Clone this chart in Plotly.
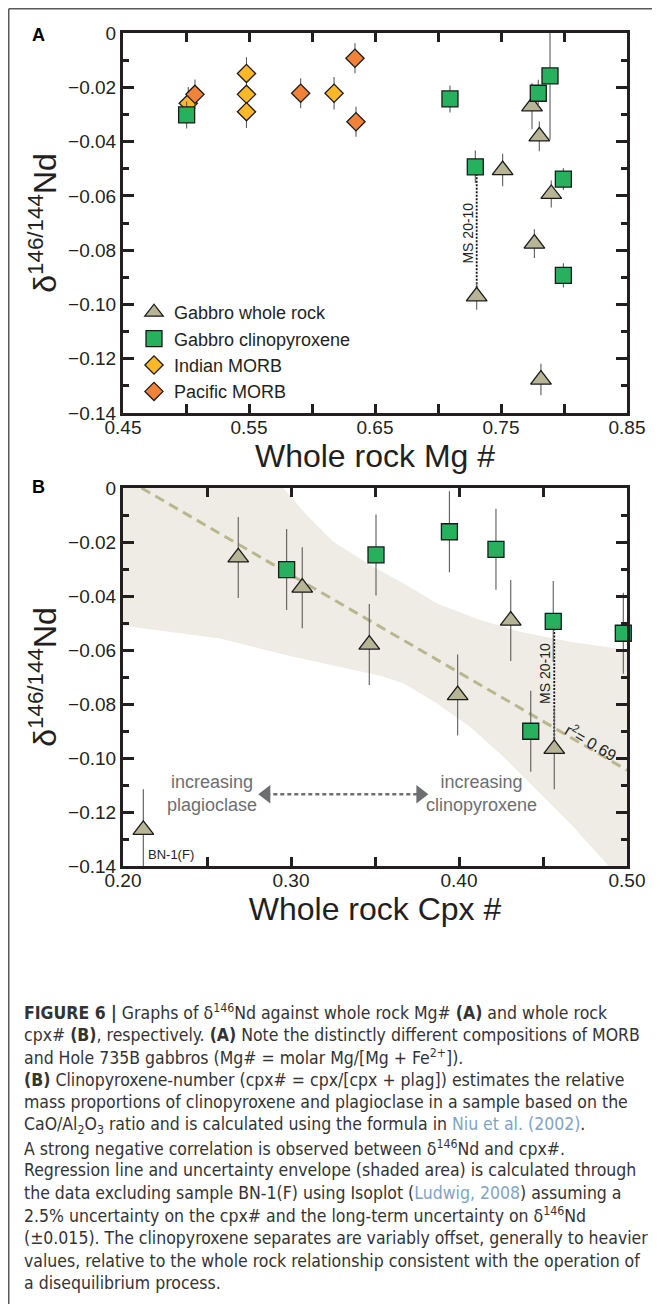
import plotly.graph_objects as go

# the page body adds an 8px margin, so the figure is 8px smaller than the window
OFF = 8
W, H = 660 - OFF, 1304 - OFF
INK = "#231f20"
GREY = "#6d6e71"
FONT = "Liberation Sans, Arial, sans-serif"
CAP_FONT = "Liberation Sans Narrow, DejaVu Sans Condensed, Liberation Sans, sans-serif"

# ---- panel A : d146Nd vs whole rock Mg#
wr_mg = [0.7513, 0.7307, 0.7746, 0.7804, 0.7899, 0.7765, 0.7817]
wr_d146_a = [-0.0505, -0.0970, -0.0270, -0.0381, -0.0593, -0.0776, -0.1277]
wr_err_a = [0.006, 0.005, 0.0085, 0.0055, 0.005, 0.0053, 0.0058]

cpx_mg = [0.5005, 0.7095, 0.7296, 0.7796, 0.7889, 0.7995, 0.7995]
cpx_d146_a = [-0.0302, -0.0243, -0.0493, -0.0222, -0.0158, -0.0538, -0.0893]
cpx_err_a = [0.005, 0.005, 0.006, 0.005, 0.0235, 0.004, 0.0045]

indian_mg = [0.5018, 0.548, 0.548, 0.548, 0.6175]
indian_d146 = [-0.0259, -0.0149, -0.0226, -0.0290, -0.0222]
indian_err = [0.006, 0.006, 0.006, 0.006, 0.006]

pacific_mg = [0.5071, 0.5910, 0.6341, 0.6349]
pacific_d146 = [-0.0226, -0.0222, -0.0093, -0.0327]
pacific_err = [0.0055, 0.0055, 0.0055, 0.0055]

# ---- panel B : d146Nd vs whole rock cpx#
wr_cpx = [0.2121, 0.2686, 0.3067, 0.3466, 0.3992, 0.4308, 0.4567]
wr_d146_b = [-0.1266, -0.0257, -0.0369, -0.0580, -0.0767, -0.0491, -0.0966]
cpx_cpx = [0.2974, 0.3506, 0.3943, 0.4220, 0.4427, 0.4561, 0.4978]
cpx_d146_b = [-0.0302, -0.0248, -0.0162, -0.0227, -0.0901, -0.0494, -0.0538]
err_b = 0.015

# regression line and uncertainty envelope (excluding BN-1(F))
fit_cpx = [0.211, 0.50]
fit_d146 = [0.0, -0.1045]
env_up_x = [0.20, 0.25, 0.2954, 0.3093, 0.3252, 0.347, 0.3668, 0.3867, 0.4125, 0.4363, 0.4661, 0.50]
env_up_y = [0.080, 0.037, 0.0, -0.010, -0.0199, -0.0285, -0.0353, -0.0427, -0.0489, -0.0532, -0.0569, -0.0600]
env_lo_x = [0.50, 0.4859, 0.4661, 0.4462, 0.4264, 0.4065, 0.3867, 0.3668, 0.353, 0.2974, 0.2577, 0.20]
env_lo_y = [-0.148, -0.1378, -0.1242, -0.1119, -0.0995, -0.0884, -0.0797, -0.0723, -0.0695, -0.0619, -0.0557, -0.0510]

# sample MS 20-10 : index of whole rock / cpx in each panel
ms_wr_a, ms_cpx_a = 1, 2
ms_wr_b, ms_cpx_b = 6, 5

# direction arrow (increasing plagioclase <-> increasing clinopyroxene)
arrow_x = [0.2853, 0.3770]
arrow_y = [-0.1134, -0.1134]

# ticks
ya_vals = [0, -0.02, -0.04, -0.06, -0.08, -0.10, -0.12, -0.14]
ya_text = ["0", "\u22120.02", "\u22120.04", "\u22120.06", "\u22120.08", "\u22120.10", "\u22120.12", "\u22120.14"]
y_minor = [-0.01, -0.03, -0.05, -0.07, -0.09, -0.11, -0.13]
xa_vals = [0.45, 0.55, 0.65, 0.75, 0.85]
xa_minor = [0.50, 0.60, 0.70, 0.80]
xb_vals = [0.20, 0.30, 0.40, 0.50]
xb_minor = [0.25, 0.35, 0.45]

caption = [
    "<b>FIGURE 6 |</b> Graphs of \u03b4<sup>146</sup>Nd against whole rock Mg# <b>(A)</b> and whole rock",
    "cpx# <b>(B)</b>, respectively. <b>(A)</b> Note the distinctly different compositions of MORB",
    "and Hole 735B gabbros (Mg# = molar Mg/[Mg + Fe<sup>2+</sup>]).",
    "<b>(B)</b> Clinopyroxene-number (cpx# = cpx/[cpx + plag]) estimates the relative",
    "mass proportions of clinopyroxene and plagioclase in a sample based on the",
    "CaO/Al<sub>2</sub>O<sub>3</sub> ratio and is calculated using the formula in "
    "<span style='color:#7fa3c4'>Niu et al. (2002)</span>.",
    "A strong negative correlation is observed between \u03b4<sup>146</sup>Nd and cpx#.",
    "Regression line and uncertainty envelope (shaded area) is calculated through",
    "the data excluding sample BN-1(F) using Isoplot (<span style='color:#7fa3c4'>Ludwig, 2008</span>) assuming a",
    "2.5% uncertainty on the cpx# and the long-term uncertainty on \u03b4<sup>146</sup>Nd",
    "(\u00b10.015). The clinopyroxene separates are variably offset, generally to heavier",
    "values, relative to the whole rock relationship consistent with the operation of",
    "a disequilibrium process.",
]


def px_x(p):
    # window pixel -> paper fraction
    return (p - OFF) / W


def px_y(p):
    return 1 - (p - OFF) / H


STYLE = {
    "wr": dict(name="Gabbro whole rock", symbol="triangle-up", size=18, color="#b7b595", rank=1),
    "cpx": dict(name="Gabbro clinopyroxene", symbol="square", size=16, color="#27b15f", rank=2),
    "ind": dict(name="Indian MORB", symbol="diamond", size=14, color="#fdb827", rank=3),
    "pac": dict(name="Pacific MORB", symbol="diamond", size=14, color="#f0823a", rank=4),
}


def points(key, x, y, err, xa, ya, legend, clip=True):
    s = STYLE[key]
    return go.Scatter(
        x=x, y=y, mode="markers", name=s["name"], legendrank=s["rank"],
        showlegend=legend, xaxis=xa, yaxis=ya, cliponaxis=clip,
        marker=dict(symbol=s["symbol"], size=s["size"], color=s["color"],
                    line=dict(color="#1a1a1a", width=1.3)),
        error_y=dict(type="data", array=err, color="#5c5c5c", thickness=1.1, width=0),
        hoverinfo="skip",
    )


fig = go.Figure()

# panel B envelope + regression
fig.add_trace(go.Scatter(
    x=env_up_x + env_lo_x, y=env_up_y + env_lo_y, xaxis="x2", yaxis="y2",
    fill="toself", fillcolor="#eeece5", line=dict(width=0), mode="lines",
    showlegend=False, hoverinfo="skip",
))
fig.add_trace(go.Scatter(
    x=fit_cpx, y=fit_d146, xaxis="x2", yaxis="y2", mode="lines",
    line=dict(color="#b9b78f", width=3, dash="10px,6px"), showlegend=False, hoverinfo="skip",
))

# MS 20-10 tie lines
fig.add_trace(go.Scatter(
    x=[wr_mg[ms_wr_a], wr_mg[ms_wr_a]], y=[cpx_d146_a[ms_cpx_a], wr_d146_a[ms_wr_a]],
    mode="lines", line=dict(color="#111", width=1.8, dash="2px,1.5px"),
    showlegend=False, hoverinfo="skip",
))
fig.add_trace(go.Scatter(
    x=[wr_cpx[ms_wr_b], wr_cpx[ms_wr_b]], y=[cpx_d146_b[ms_cpx_b], wr_d146_b[ms_wr_b]],
    xaxis="x2", yaxis="y2",
    mode="lines", line=dict(color="#111", width=1.8, dash="2px,1.5px"),
    showlegend=False, hoverinfo="skip",
))

# direction arrow
fig.add_trace(go.Scatter(
    x=arrow_x, y=arrow_y, xaxis="x2", yaxis="y2", mode="lines+markers",
    line=dict(color=GREY, width=2.5, dash="4px,3px"),
    marker=dict(symbol=["triangle-left", "triangle-right"], size=16, color=GREY),
    showlegend=False, hoverinfo="skip",
))

# panel A points
fig.add_trace(points("ind", indian_mg, indian_d146, indian_err, "x", "y", True))
fig.add_trace(points("pac", pacific_mg, pacific_d146, pacific_err, "x", "y", True))
fig.add_trace(points("wr", wr_mg, wr_d146_a, wr_err_a, "x", "y", True))
fig.add_trace(points("cpx", cpx_mg, cpx_d146_a, cpx_err_a, "x", "y", True))

# panel B points
fig.add_trace(points("wr", wr_cpx, wr_d146_b, [err_b] * len(wr_cpx), "x2", "y2", False))
fig.add_trace(points("cpx", cpx_cpx, cpx_d146_b, [err_b] * len(cpx_cpx), "x2", "y2", False, clip=False))


def xaxis(dom, rng, vals, minor, title):
    return dict(
        domain=dom, range=rng, tickmode="array", tickvals=vals,
        ticktext=[f"{v:.2f}" for v in vals],
        ticks="inside", ticklen=9, tickwidth=3, tickcolor=INK, ticklabelstandoff=-5,
        minor=dict(ticks="inside", tickvals=minor, ticklen=9, tickwidth=3, tickcolor=INK),
        showline=True, linewidth=3, linecolor=INK, mirror="ticks",
        showgrid=False, zeroline=False, automargin=False,
        tickfont=dict(size=19, color=INK, family=FONT),
        title=dict(text=title, font=dict(size=32, color=INK, family=FONT), standoff=2),
    )


def yaxis(dom):
    return dict(
        domain=dom, range=[-0.14, 0], tickmode="array", tickvals=ya_vals, ticktext=ya_text,
        ticks="inside", ticklen=11, tickwidth=3, tickcolor=INK,
        minor=dict(ticks="inside", tickvals=y_minor, ticklen=6, tickwidth=3, tickcolor=INK),
        showline=True, linewidth=3, linecolor=INK, mirror="ticks",
        showgrid=False, zeroline=False, automargin=False,
        tickfont=dict(size=19, color=INK, family=FONT),
        title=dict(text="\u03b4<sup>146/144</sup>Nd", font=dict(size=32, color=INK, family=FONT), standoff=2),
    )


x_dom = [px_x(123), px_x(627)]
fig.update_layout(
    width=W, height=H, margin=dict(l=0, r=0, t=0, b=0),
    paper_bgcolor="white", plot_bgcolor="white",
    font=dict(family=FONT, color=INK),
    xaxis=xaxis(x_dom, [0.45, 0.85], xa_vals, xa_minor, "Whole rock Mg #") | dict(anchor="y"),
    yaxis=yaxis([px_y(413), px_y(33)]) | dict(anchor="x"),
    xaxis2=xaxis(x_dom, [0.20, 0.50], xb_vals, xb_minor, "Whole rock Cpx #") | dict(anchor="y2"),
    yaxis2=yaxis([px_y(866), px_y(488)]) | dict(anchor="x2"),
    legend=dict(x=px_x(134), y=px_y(294), xanchor="left", yanchor="top",
                bgcolor="rgba(0,0,0,0)", font=dict(size=18, color=INK, family=FONT),
                tracegroupgap=0),
    showlegend=True,
)

ann = [
    dict(text="<b>A</b>", x=px_x(38), y=px_y(35), xref="paper", yref="paper",
         xanchor="center", yanchor="middle", showarrow=False, font=dict(size=18, color="black")),
    dict(text="<b>B</b>", x=px_x(38), y=px_y(487), xref="paper", yref="paper",
         xanchor="center", yanchor="middle", showarrow=False, font=dict(size=18, color="black")),
    dict(text="MS 20-10", x=0.7240, y=-0.0738, xref="x", yref="y", textangle=-90,
         showarrow=False, font=dict(size=14, color=INK)),
    dict(text="MS 20-10", x=0.4516, y=-0.0686, xref="x2", yref="y2", textangle=-90,
         showarrow=False, font=dict(size=14, color=INK)),
    dict(text="r<sup>2</sup>= 0.69", x=0.479, y=-0.094, xref="x2", yref="y2", textangle=30,
         showarrow=False, font=dict(size=16, color=INK)),
    dict(text="BN-1(F)", x=0.2137, y=-0.1359, xref="x2", yref="y2", xanchor="left",
         showarrow=False, font=dict(size=13, color=INK)),
    dict(text="increasing<br>plagioclase", x=0.2528, y=-0.1131, xref="x2", yref="y2",
         showarrow=False, font=dict(size=18, color=GREY)),
    dict(text="increasing<br>clinopyroxene", x=0.4135, y=-0.1133, xref="x2", yref="y2",
         showarrow=False, font=dict(size=18, color=GREY)),
]
for i, line in enumerate(caption):
    ann.append(dict(text=line, x=px_x(22), y=px_y(1012 + 22.6 * i), xref="paper", yref="paper",
                    xanchor="left", yanchor="middle", showarrow=False,
                    font=dict(size=17.5, color="#333333", family=CAP_FONT)))
fig.update_layout(annotations=ann)

# figure frame (top and left edge)
fig.update_layout(shapes=[
    dict(type="line", xref="paper", yref="paper", x0=0.75 / W, x1=1, y0=1 - 0.75 / H, y1=1 - 0.75 / H,
         line=dict(color="#58595b", width=1.5)),
    dict(type="line", xref="paper", yref="paper", x0=0.75 / W, x1=0.75 / W, y0=1 - 0.75 / H, y1=0,
         line=dict(color="#58595b", width=1.5)),
])

fig.write_html("out.html")
